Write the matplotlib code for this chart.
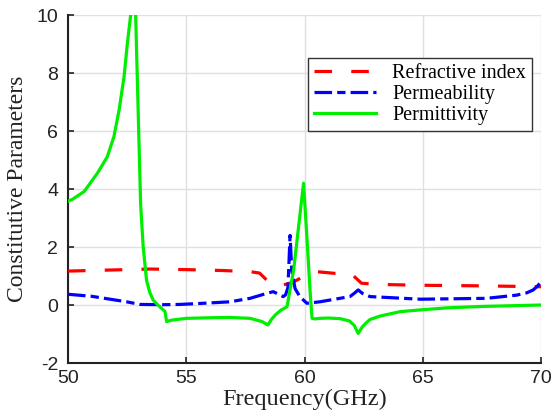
import matplotlib
matplotlib.use("Agg")
import matplotlib.pyplot as plt

plt.rcParams['axes.unicode_minus'] = False

# Permittivity (green)
f_eps = [50.0, 50.18, 50.68, 51.24, 51.66, 51.94, 52.16, 52.37, 52.51, 52.65, 52.72, 52.8, 52.86,
         53.07, 53.12, 53.18, 53.32, 53.45, 53.6, 53.8, 54.03, 54.1, 54.17, 54.4,
         54.7, 55.02, 56.0, 56.85, 57.7, 58.2, 58.45, 58.6, 58.77, 59.0, 59.26,
         59.54, 59.75, 59.96, 60.1, 60.25, 60.32, 60.44, 60.65, 61.0, 61.5, 61.9,
         62.1, 62.27, 62.45, 62.63, 62.77, 63.2, 64.04, 64.88, 66.0, 67.5, 69.0, 70.0]
eps = [3.58, 3.64, 3.91, 4.54, 5.11, 5.8, 6.72, 7.87, 9.02, 10.0, 11.5, 11.5, 10.0,
       3.5, 2.8, 2.0, 0.86, 0.45, 0.17, 0.0, -0.17, -0.22, -0.57, -0.52,
       -0.49, -0.46, -0.44, -0.43, -0.46, -0.57, -0.69, -0.5, -0.34, -0.18, -0.06,
       1.2, 2.7, 4.2, 2.36, 0.29, -0.46, -0.48, -0.46, -0.45, -0.47, -0.55,
       -0.7, -0.98, -0.75, -0.6, -0.5, -0.38, -0.23, -0.17, -0.1, -0.05, -0.02, 0.0]

# Refractive index (red)
f_n = [50.0, 51.5, 53.47, 55.0, 56.5, 57.7, 58.1, 58.54, 59.1, 59.5, 59.95, 60.5, 61.29,
       62.0, 62.41, 63.1, 65.0, 67.5, 70.0]
n_idx = [1.17, 1.2, 1.24, 1.22, 1.19, 1.15, 1.1, 0.75, 0.69, 0.78, 0.98, 1.15, 1.09,
         1.06, 0.75, 0.71, 0.68, 0.66, 0.63]

# Permeability (blue)
f_mu = [50.0, 51.0, 52.48, 53.04, 54.0, 54.73, 55.5, 56.85, 57.7, 58.4, 58.68, 59.1, 59.2,
        59.3, 59.36, 59.39, 59.46, 59.6, 59.8, 60.1, 60.65, 61.07, 61.92, 62.1, 62.27,
        62.45, 62.77, 64.9, 67.7, 68.97, 69.4, 69.67, 69.85, 70.0]
mu = [0.37, 0.3, 0.11, 0.02, 0.01, 0.02, 0.05, 0.11, 0.23, 0.4, 0.46, 0.29, 0.35,
      0.6, 1.8, 2.4, 1.2, 0.57, 0.29, 0.06, 0.11, 0.17, 0.29, 0.4, 0.52,
      0.4, 0.29, 0.2, 0.23, 0.34, 0.42, 0.52, 0.65, 0.8]

x_ticks = [50, 55, 60, 65, 70]
y_ticks = [-2, 0, 2, 4, 6, 8, 10]

fig = plt.figure(figsize=(5.52, 4.17), dpi=100)
ax = fig.add_axes([68/552, 1-363/417, (541-68)/552, (363-15)/417])

ax.plot(f_n, n_idx, color='#ff0000', lw=2.3, dashes=(5.5, 6), label='Refractive index', zorder=3)
ax.plot(f_mu, mu, color='#0000ff', lw=2.3, dashes=(5.5, 1.6, 2.6, 1.6), label='Permeability', zorder=4)
ax.plot(f_eps, eps, color='#00ee00', lw=2.3, label='Permittivity', zorder=5)

ax.set_xlim(50, 70)
ax.set_ylim(-2, 10)
ax.set_xticks(x_ticks)
ax.set_yticks(y_ticks)
ax.grid(True, color='#e0e0e0', lw=1)
ax.set_axisbelow(True)
for s in ['top', 'right']:
    ax.spines[s].set_visible(False)
for s in ['left', 'bottom']:
    ax.spines[s].set_linewidth(1.5)
    ax.spines[s].set_color('#222222')
ax.tick_params(direction='in', length=4, width=1.2, labelsize=14, colors='#222222')
ax.tick_params(axis='y', pad=7)
ax.tick_params(axis='x', pad=5)
for lab in ax.get_xticklabels() + ax.get_yticklabels():
    lab.set_fontfamily('Liberation Sans')

ax.set_xlabel('Frequency(GHz)', fontfamily='Liberation Serif', fontsize=17.5, labelpad=1, color='#222222')
ax.set_ylabel('Constitutive Parameters', fontfamily='Liberation Serif', fontsize=17, labelpad=6, color='#222222')

leg = ax.legend(loc='upper right', bbox_to_anchor=(532/552, 1-58/417), bbox_transform=fig.transFigure,
                prop={'family': 'Liberation Serif', 'size': 14.5}, frameon=True, fancybox=False,
                edgecolor='#333333', framealpha=1, handlelength=3.1, handletextpad=0.8,
                borderpad=0.3, labelspacing=0.1, borderaxespad=0)
leg.get_frame().set_linewidth(1.0)

fig.savefig('out.png', dpi=100)
